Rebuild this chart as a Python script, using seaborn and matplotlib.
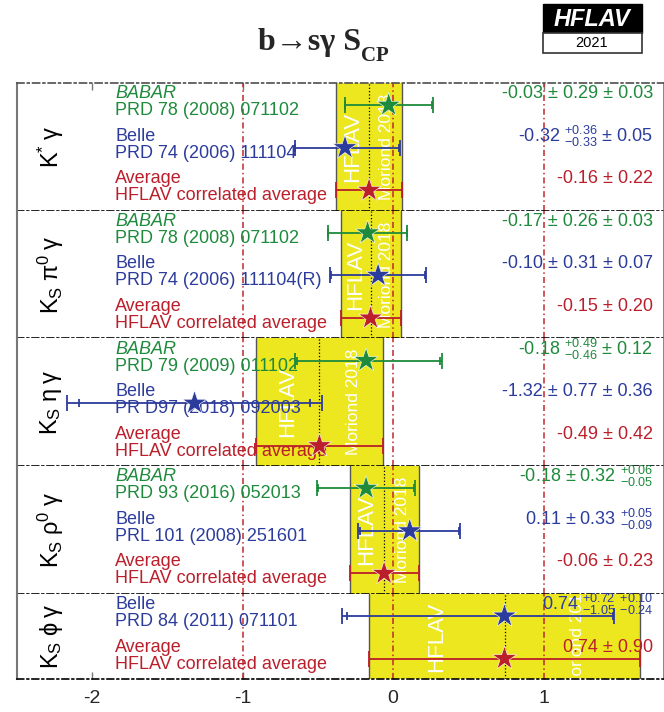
# HFLAV 2021 — b -> s gamma time-dependent CP asymmetry S_CP
#
# Per-mode measurements (BABAR, Belle) and the HFLAV correlated average,
# one panel per decay mode, yellow band = average +- error.

import numpy as np
import pandas as pd
import matplotlib
matplotlib.use("Agg")
import matplotlib.pyplot as plt
import seaborn as sns
from matplotlib.patches import Rectangle

# --- data ---------------------------------------------------------------------

decay_labels = [r"$K^{*}\;\gamma$", r"$K_{S}\;\pi^{0}\;\gamma$", r"$K_{S}\;\eta\;\gamma$",
                r"$K_{S}\;\rho^{0}\;\gamma$", r"$K_{S}\;\phi\;\gamma$"]
panel_rows = [3, 3, 3, 3, 2]

meas_panel = [0, 0, 0, 1, 1, 1, 2, 2, 2, 3, 3, 3, 4, 4]
meas_source = ["BABAR", "Belle", "Average", "BABAR", "Belle", "Average", "BABAR", "Belle", "Average",
               "BABAR", "Belle", "Average", "Belle", "Average"]
meas_ref = ["PRD 78 (2008) 071102", "PRD 74 (2006) 111104", "HFLAV correlated average",
            "PRD 78 (2008) 071102", "PRD 74 (2006) 111104(R)", "HFLAV correlated average",
            "PRD 79 (2009) 011102", "PR D97 (2018) 092003", "HFLAV correlated average",
            "PRD 93 (2016) 052013", "PRL 101 (2008) 251601", "HFLAV correlated average",
            "PRD 84 (2011) 071101", "HFLAV correlated average"]
meas_value = [-0.03, -0.32, -0.16, -0.17, -0.10, -0.15, -0.18, -1.32, -0.49, -0.18, 0.11, -0.06, 0.74, 0.74]
meas_stat_up = [0.29, 0.36, 0.22, 0.26, 0.31, 0.20, 0.49, 0.77, 0.42, 0.32, 0.33, 0.23, 0.72, 0.90]
meas_stat_dn = [0.29, 0.33, 0.22, 0.26, 0.31, 0.20, 0.46, 0.77, 0.42, 0.32, 0.33, 0.23, 1.05, 0.90]
meas_syst_up = [0.03, 0.05, 0.00, 0.03, 0.07, 0.00, 0.12, 0.36, 0.00, 0.06, 0.05, 0.00, 0.10, 0.00]
meas_syst_dn = [0.03, 0.05, 0.00, 0.03, 0.07, 0.00, 0.12, 0.36, 0.00, 0.05, 0.09, 0.00, 0.24, 0.00]
meas_text = ["-0.03 ± 0.29 ± 0.03", "-0.32 ${}^{+0.36}_{-0.33}$ ± 0.05", "-0.16 ± 0.22",
             "-0.17 ± 0.26 ± 0.03", "-0.10 ± 0.31 ± 0.07", "-0.15 ± 0.20",
             "-0.18 ${}^{+0.49}_{-0.46}$ ± 0.12", "-1.32 ± 0.77 ± 0.36", "-0.49 ± 0.42",
             "-0.18 ± 0.32 ${}^{+0.06}_{-0.05}$", "0.11 ± 0.33 ${}^{+0.05}_{-0.09}$", "-0.06 ± 0.23",
             "0.74 ${}^{+0.72}_{-1.05}\\ {}^{+0.10}_{-0.24}$", "0.74 ± 0.90"]

meas = pd.DataFrame({
    "panel": meas_panel, "source": meas_source, "ref": meas_ref, "value": meas_value,
    "stat_up": meas_stat_up, "stat_dn": meas_stat_dn, "syst_up": meas_syst_up,
    "syst_dn": meas_syst_dn, "text": meas_text,
})
meas["row"] = meas.groupby("panel").cumcount()
meas["y"] = meas["row"] + 0.52
meas["tot_up"] = np.hypot(meas["stat_up"], meas["syst_up"])
meas["tot_dn"] = np.hypot(meas["stat_dn"], meas["syst_dn"])

colors = {"BABAR": "#1e8a3c", "Belle": "#2c3c9c", "Average": "#bb1f2b"}
yellow = "#ece71f"
dashdot = (0, (4, 2, 1, 2))

# --- style --------------------------------------------------------------------

sns.set_theme(style="white")
plt.rcParams["font.family"] = ["Liberation Sans", "DejaVu Sans"]
plt.rcParams["mathtext.fontset"] = "custom"
plt.rcParams["mathtext.rm"] = "Liberation Sans"
plt.rcParams["mathtext.it"] = "Liberation Sans:italic"
plt.rcParams["mathtext.default"] = "rm"
plt.rcParams["axes.unicode_minus"] = False

fig = plt.figure(figsize=(6.64, 7.12), dpi=100)
gs = fig.add_gridspec(5, 1, height_ratios=panel_rows, left=17 / 664, right=1.0,
                      top=1 - 83 / 712, bottom=1 - 679 / 712, hspace=0)
axes = [fig.add_subplot(gs[i]) for i in range(5)]

for p, ax in enumerate(axes):
    rows = panel_rows[p]
    d = meas[meas["panel"] == p]
    avg = d[d["source"] == "Average"].iloc[0]
    lo, hi = avg["value"] - avg["stat_up"], avg["value"] + avg["stat_up"]

    ax.set_xlim(-2.5, 1.8)
    ax.set_ylim(rows, 0)

    # average band with its stamp
    ax.axvspan(lo, hi, color=yellow, zorder=1, lw=0)
    for x in (lo, hi):
        ax.axvline(x, color="#555555", lw=1.0, zorder=1.5)
    ax.text(lo + 0.25 * (hi - lo), rows / 2, "HFLAV", rotation=90, color="white", fontsize=16,
            ha="center", va="center", zorder=1.6, clip_on=True)
    ax.text(lo + 0.77 * (hi - lo), rows / 2, "Moriond 2018", rotation=90, color="white",
            fontsize=12.5, ha="center", va="center", zorder=1.6, clip_on=True)

    for x in (-1, 0, 1):
        ax.axvline(x, color="#c0282d", lw=1.1, ls=dashdot, zorder=2)
    ax.axvline(avg["value"], color="black", lw=0.9, ls=":", zorder=2)

    for _, m in d.iterrows():
        c = colors[m["source"]]
        ax.errorbar(m["value"], m["y"], xerr=[[m["tot_dn"]], [m["tot_up"]]], fmt="none",
                    ecolor=c, elinewidth=1.3, capsize=6, capthick=1.3, zorder=3)
        if m["syst_up"] > 0:
            ax.plot([m["value"] - m["stat_dn"], m["value"] + m["stat_up"]], [m["y"], m["y"]],
                    ls="none", marker="|", ms=6, mew=1.3, color=c, zorder=3)
        style = "italic" if m["source"] == "BABAR" else "normal"
        tr = ax.get_yaxis_transform()
        ax.text(0.152, m["row"] + 0.25, m["source"], transform=tr, color=c, fontsize=13,
                fontstyle=style, ha="left", va="center", zorder=4)
        ax.text(0.152, m["row"] + 0.65, m["ref"], transform=tr, color=c, fontsize=13,
                ha="left", va="center", zorder=4)
        ax.text(0.983, m["row"] + 0.25, m["text"], transform=tr, color=c, fontsize=13,
                ha="right", va="center", zorder=4)

    sns.scatterplot(data=d, x="value", y="y", hue="source", palette=colors, marker="*",
                    s=330, linewidth=0.4, legend=False, zorder=5, ax=ax)

    ax.text(0.053, rows / 2, decay_labels[p], transform=ax.get_yaxis_transform(), rotation=90,
            fontsize=17, ha="center", va="center", color="black")

    ax.set_xlabel("")
    ax.set_ylabel("")
    ax.set_yticks([])
    ax.set_xticks([-2, -1, 0, 1])
    ax.tick_params(axis="x", direction="in", length=5, width=1, color="#777777",
                   bottom=(p == 4), top=(p == 0), labelbottom=(p == 4), labelsize=14, pad=8)
    ax.spines["left"].set_color("#777777")
    ax.spines["left"].set_linewidth(1.5)
    ax.spines["right"].set_color("#777777")
    ax.spines["bottom"].set_color("black")
    ax.spines["bottom"].set_linewidth(1.2)
    ax.spines["bottom"].set_linestyle(dashdot)
    if p == 0:
        ax.spines["top"].set_color("#555555")
        ax.spines["top"].set_linestyle(dashdot)
    else:
        ax.spines["top"].set_visible(False)

# --- title and logo -----------------------------------------------------------

t1 = fig.text(258 / 664, 1 - 50 / 712, "b→sγ S", fontsize=23, fontweight="bold",
              family=["Liberation Serif", "DejaVu Serif"], ha="left", va="baseline")
fig.texts.append(plt.Annotation("CP", xy=(1.0, 0.05), xycoords=t1, ha="left", va="center",
                                fontsize=15, fontweight="bold",
                                family=["Liberation Serif", "DejaVu Serif"]))
fig.texts[-1].set_figure(fig)

fig.add_artist(Rectangle((543 / 664, 1 - 33 / 712), 99 / 664, 29 / 712, transform=fig.transFigure,
                         facecolor="black", edgecolor="black", lw=1))
fig.add_artist(Rectangle((543 / 664, 1 - 53 / 712), 99 / 664, 20 / 712, transform=fig.transFigure,
                         facecolor="white", edgecolor="#333333", lw=1.2))
fig.text(592 / 664, 1 - 19 / 712, "HFLAV", color="white", fontsize=17, fontweight="bold",
         fontstyle="italic", ha="center", va="center")
fig.text(592 / 664, 1 - 43 / 712, "2021", color="black", fontsize=10.5, ha="center", va="center")

plt.savefig("out.png", dpi=100)
plt.close()
